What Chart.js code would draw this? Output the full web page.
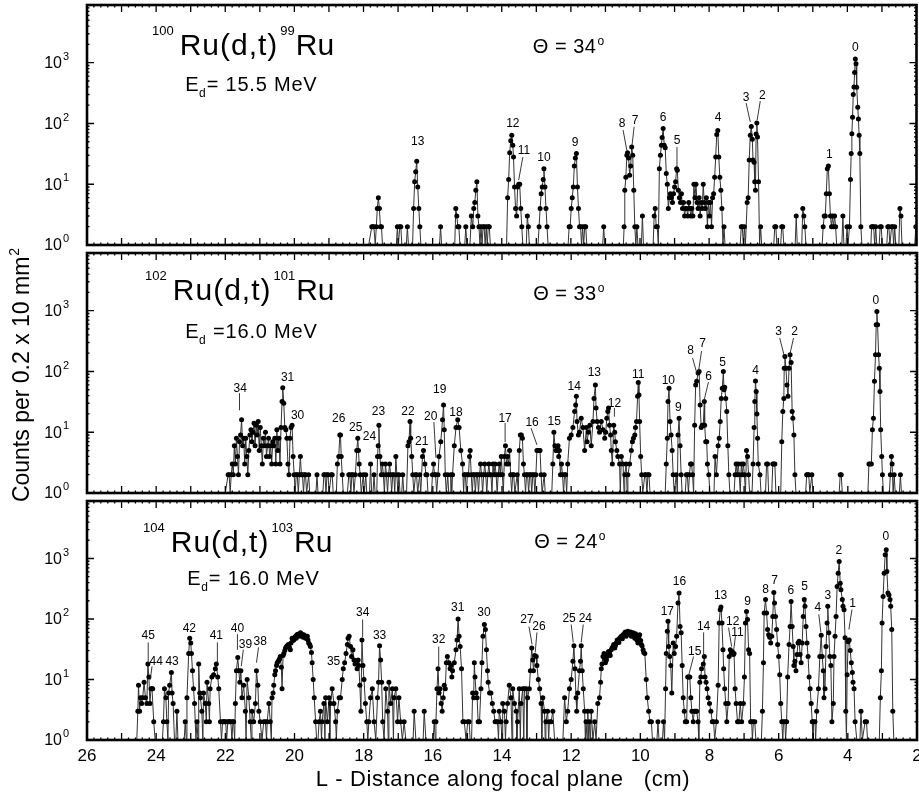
<!DOCTYPE html>
<html>
<head>
<meta charset="utf-8">
<script src="https://cdn.jsdelivr.net/npm/chart.js@4.4.1/dist/chart.umd.min.js"></script>
<style>
  html, body { margin: 0; padding: 0; background: #fff; }
  #wrap { position: relative; width: 919px; height: 796px; overflow: hidden; }
  canvas { position: absolute; left: 0; }
</style>
</head>
<body>
<div id="wrap">
  <canvas id="ru99" width="919" height="256" style="top:0px"></canvas>
  <canvas id="ru101" width="919" height="262" style="top:240px"></canvas>
  <canvas id="ru103" width="919" height="297" style="top:499px"></canvas>
</div>
<script>
// (d,t) spectra: counts per channel vs. position L (cm) along the focal plane.
// Pairs are [L, counts]; a count of 1 sits on the bottom axis.
const ru99Spectrum = [
  [17.85,1],[17.76,2],[17.73,2],[17.70,2],[17.66,1],[17.63,2],[17.60,4],[17.57,6],[17.54,4],[17.51,2],[17.48,2],[17.45,1],
  [17.05,1],[17.02,2],[16.99,1],[16.95,2],[16.92,2],[16.89,1],[16.76,1],[16.73,2],[16.70,1],
  [16.58,1],[16.55,4],[16.52,11],[16.49,16],[16.46,24],[16.43,9],[16.40,4],[16.37,2],[16.34,1],
  [15.80,1],[15.77,2],[15.74,1],
  [15.36,1],[15.33,4],[15.30,3],[15.27,2],[15.24,2],[15.21,1],
  [15.07,1],[15.04,2],[15.01,1],
  [14.92,1],[14.88,3],[14.84,2],[14.81,4],[14.78,5],[14.75,8],[14.72,11],[14.69,3],[14.66,2],
  [14.63,1],[14.60,2],[14.57,1],[14.54,2],[14.51,2],[14.48,1],[14.45,2],[14.42,1],[14.39,2],[14.36,2],[14.33,1],
  [13.86,1],[13.83,6],[13.80,12],[13.77,33],[13.74,52],[13.71,64],[13.68,44],[13.66,28],[13.63,9],[13.60,4],[13.57,3],
  [13.54,9],[13.51,10],[13.48,10],[13.45,4],[13.42,2],[13.39,1],
  [13.29,1],[13.26,3],[13.23,2],[13.20,1],
  [12.95,1],[12.92,2],[12.89,4],[12.86,7],[12.83,9],[12.80,12],[12.78,18],[12.75,9],[12.72,4],[12.69,2],[12.66,1],
  [12.08,1],[12.05,2],[12.02,2],[11.99,4],[11.96,6],[11.93,9],[11.90,20],[11.87,27],[11.84,32],[11.81,9],[11.78,4],
  [11.75,2],[11.72,2],[11.69,1],[11.66,2],[11.63,1],[11.60,2],[11.57,2],[11.54,1],
  [11.08,1],[11.05,2],[11.02,1],
  [10.48,1],[10.46,2],[10.44,8],[10.41,13],[10.38,30],[10.36,33],[10.33,27],[10.30,14],[10.27,20],[10.24,41],[10.21,30],
  [10.18,8],[10.15,2],[10.12,1],[10.09,2],[10.06,1],[9.96,1],[9.93,3],[9.90,1],
  [9.62,1],[9.59,3],[9.56,4],[9.53,2],[9.50,2],[9.47,1],[9.44,18],[9.41,30],[9.38,44],[9.36,59],[9.33,83],[9.30,44],
  [9.27,40],[9.24,15],[9.21,10],[9.18,4],[9.15,6],[9.12,7],[9.09,6],[9.06,5],[9.03,7],[9.00,9],[8.97,11],[8.94,18],
  [8.92,17],[8.89,8],[8.86,6],[8.83,5],[8.80,7],[8.77,4],[8.74,5],[8.71,3],[8.68,4],[8.65,4],[8.62,3],[8.59,5],
  [8.56,4],[8.53,3],[8.50,4],[8.47,3],[8.44,10],[8.41,6],[8.38,10],[8.35,5],[8.32,4],[8.29,6],[8.26,3],[8.23,5],
  [8.20,4],[8.17,10],[8.14,5],[8.11,4],[8.08,6],[8.05,2],[8.02,5],[7.99,3],[7.96,5],[7.93,2],[7.90,6],[7.87,7],
  [7.84,13],[7.81,28],[7.78,66],[7.75,77],[7.72,28],[7.69,13],[7.66,8],[7.63,4],[7.60,1],[7.57,2],[7.54,1],
  [7.10,1],[7.07,2],[7.04,2],[7.01,1],[6.98,2],[6.95,1],
  [6.90,5],[6.87,6],[6.84,25],[6.81,64],[6.78,89],[6.75,55],[6.73,25],[6.70,23],[6.68,11],[6.66,8],[6.64,67],
  [6.62,102],[6.60,60],[6.57,11],[6.54,1],[6.51,2],[6.48,1],
  [6.13,1],[6.10,2],[6.07,2],[6.04,1],[5.93,1],[5.90,2],[5.87,2],[5.84,1],
  [5.51,1],[5.48,3],[5.45,1],
  [5.32,1],[5.29,4],[5.26,3],[5.23,2],[5.20,1],
  [4.73,1],[4.70,2],[4.67,3],[4.64,3],[4.61,7],[4.58,18],[4.55,20],[4.52,7],[4.49,3],[4.46,2],[4.43,3],[4.40,2],
  [4.37,3],[4.34,2],[4.31,1],
  [4.16,1],[4.13,3],[4.10,1],[4.04,1],[4.01,2],[3.98,1],
  [3.94,2],[3.91,12],[3.89,32],[3.87,68],[3.85,127],[3.83,300],[3.81,400],[3.79,690],[3.77,1150],[3.75,960],
  [3.73,395],[3.70,185],[3.68,118],[3.66,64],[3.64,32],[3.61,2],[3.58,1],
  [3.32,1],[3.30,2],[3.27,2],[3.24,2],[3.21,1],[3.18,2],[3.15,1],[3.08,1],[3.05,2],[3.02,2],[2.99,1],
  [2.86,1],[2.83,2],[2.80,2],[2.77,1],[2.72,2],[2.69,2],[2.66,1],[2.63,2],[2.60,1],
  [2.51,1],[2.48,4],[2.45,3],[2.42,1],[2.05,1],[2.02,2]
];

const ru101Spectrum = [
  [22.00,1],[21.92,2],[21.89,2],[21.86,1],[21.83,2],[21.80,3],[21.77,2],[21.74,6],[21.71,3],[21.68,8],[21.65,4],
  [21.62,2],[21.59,7],[21.56,9],[21.53,16],[21.50,6],[21.47,8],[21.44,3],[21.41,8],[21.38,4],[21.35,2],[21.32,5],
  [21.29,9],[21.26,11],[21.23,7],[21.20,10],[21.17,14],[21.14,6],[21.11,13],[21.08,9],[21.05,15],[21.02,5],
  [20.99,12],[20.96,6],[20.93,3],[20.90,8],[20.87,6],[20.84,10],[20.81,4],[20.78,6],[20.75,8],[20.72,4],[20.69,6],
  [20.66,3],[20.63,7],[20.60,6],[20.57,8],[20.54,3],[20.51,11],[20.48,5],[20.45,8],[20.42,3],[20.39,12],[20.36,32],
  [20.34,54],[20.31,30],[20.28,12],[20.25,11],[20.22,8],[20.19,3],[20.16,2],[20.13,8],[20.10,12],[20.07,13],[20.04,4],
  [20.01,2],[19.98,1],[19.95,2],[19.92,2],[19.89,1],[19.86,2],[19.83,4],[19.80,2],[19.77,2],[19.74,1],[19.71,2],
  [19.68,2],[19.65,1],[19.59,2],[19.56,1],
  [19.38,1],[19.35,2],[19.32,1],[19.18,1],[19.15,2],[19.12,2],[19.09,1],[19.06,2],[19.03,2],[19.00,1],[18.94,2],
  [18.91,2],[18.88,1],[18.79,1],[18.76,3],[18.72,4],[18.69,9],[18.67,9],[18.65,4],[18.62,2],[18.59,1],
  [18.47,1],[18.43,2],[18.40,2],[18.37,1],[18.34,2],[18.31,2],[18.28,1],[18.24,2],[18.20,5],[18.17,8],[18.15,5],
  [18.13,3],[18.10,2],[18.07,1],[18.01,2],[17.98,1],[17.94,2],[17.91,1],[17.83,1],[17.80,3],[17.77,1],[17.73,1],
  [17.70,2],[17.67,1],[17.62,1],[17.60,4],[17.58,6],[17.56,13],[17.53,4],[17.49,2],[17.46,3],[17.43,2],[17.40,1],
  [17.37,3],[17.34,2],[17.31,1],[17.28,2],[17.25,3],[17.22,2],[17.19,1],[17.16,2],[17.13,2],[17.10,1],[17.07,4],
  [17.04,2],[17.01,1],[16.98,2],[16.95,1],[16.90,1],[16.87,2],[16.84,1],
  [16.76,1],[16.72,6],[16.69,7],[16.66,15],[16.64,8],[16.61,4],[16.58,2],[16.55,1],[16.50,2],[16.47,2],[16.44,1],
  [16.38,2],[16.35,1],[16.30,4],[16.27,5],[16.23,3],[16.20,2],[16.17,2],[16.14,1],[16.04,1],[16.01,2],[15.98,3],
  [15.95,2],[15.92,2],[15.89,1],[15.85,2],[15.82,4],[15.77,7],[15.72,16],[15.69,28],[15.67,11],[15.64,2],[15.61,1],
  [15.57,2],[15.54,1],[15.50,1],[15.48,2],[15.45,1],[15.43,2],[15.38,6],[15.33,12],[15.28,16],[15.24,12],[15.19,5],
  [15.14,3],[15.11,1],
  [15.09,2],[15.06,2],[15.03,1],[15.00,2],[14.97,2],[14.94,4],[14.92,5],[14.89,2],[14.86,1],[14.83,2],[14.80,2],
  [14.77,1],[14.74,2],[14.71,2],[14.68,1],[14.65,2],[14.62,3],[14.59,2],[14.56,1],[14.53,2],[14.50,3],[14.47,2],
  [14.44,1],[14.41,2],[14.38,3],[14.35,2],[14.32,2],[14.29,1],[14.26,3],[14.23,2],[14.20,3],[14.17,2],[14.14,1],
  [14.11,2],[14.08,3],[14.05,2],[14.02,4],[13.99,2],[13.96,1],[13.93,4],[13.90,6],[13.87,3],[13.84,4],[13.81,3],
  [13.78,5],[13.75,2],[13.72,1],[13.69,2],[13.66,2],[13.63,1],[13.56,2],[13.53,1],[13.50,5],[13.47,9],[13.44,9],
  [13.41,8],[13.38,3],[13.35,2],[13.32,1],[13.29,2],[13.26,2],[13.23,1],[13.20,2],[13.17,2],[13.14,1],[13.11,2],
  [13.08,2],[13.05,1],[13.02,2],[12.99,5],[12.96,5],[12.93,5],[12.90,5],[12.87,2],[12.84,1],[12.78,2],[12.75,1],
  [12.56,1],[12.53,3],[12.50,10],[12.47,6],[12.44,5],[12.41,5],[12.38,6],[12.36,4],[12.34,5],[12.31,2],[12.28,3],
  [12.25,2],[12.22,1],[12.19,2],[12.16,2],[12.13,1],
  [12.10,3],[12.05,8],[12.00,9],[11.95,12],[11.90,22],[11.87,28],[11.85,39],[11.83,15],[11.79,9],[11.76,10],
  [11.71,17],[11.66,12],[11.61,5],[11.56,12],[11.54,7],[11.50,10],[11.46,13],[11.42,6],[11.37,15],[11.34,36],
  [11.30,60],[11.28,25],[11.25,15],[11.21,12],[11.18,10],[11.13,15],[11.08,11],[11.03,8],[11.00,10],[10.97,17],
  [10.94,22],[10.92,25],[10.89,13],[10.86,9],[10.84,5],[10.81,3],[10.77,13],[10.74,10],[10.72,7],[10.68,5],
  [10.65,4],[10.60,3],[10.58,1],[10.55,4],[10.50,3],[10.47,1],[10.45,2],[10.41,3],[10.38,1],[10.36,2],[10.31,3],
  [10.26,5],[10.23,7],[10.20,8],[10.16,9],[10.14,12],[10.11,15],[10.08,39],[10.06,66],[10.04,41],[10.02,15],
  [9.99,4],[9.96,2],[9.93,1],
  [9.87,2],[9.84,2],[9.81,1],[9.78,2],[9.75,2],[9.72,1],
  [9.28,1],[9.25,3],[9.22,8],[9.20,32],[9.17,53],[9.14,15],[9.11,9],[9.08,5],[9.05,2],[9.02,1],[8.96,2],[8.93,1],
  [8.91,9],[8.88,17],[8.85,6],[8.82,2],[8.79,1],
  [8.70,1],[8.67,2],[8.64,2],[8.61,1],[8.58,2],[8.55,3],[8.52,3],[8.49,2],[8.46,1],
  [8.43,13],[8.40,60],[8.37,69],[8.33,94],[8.30,100],[8.27,28],[8.24,12],[8.21,13],[8.18,13],[8.15,32],[8.14,13],
  [8.11,7],[8.08,7],[8.06,3],[8.02,2],[7.99,1],
  [7.87,1],[7.84,4],[7.80,2],[7.75,6],[7.72,8],[7.69,15],[7.66,36],[7.63,53],[7.60,100],[7.58,50],[7.56,55],
  [7.53,36],[7.50,22],[7.47,6],[7.44,2],[7.41,1],
  [7.29,1],[7.26,2],[7.23,3],[7.20,2],[7.17,3],[7.14,2],[7.11,1],[7.08,3],[7.05,2],[7.02,3],[6.99,2],[6.96,1],
  [6.93,5],[6.90,4],[6.87,2],[6.84,1],
  [6.77,1],[6.74,3],[6.71,12],[6.69,32],[6.67,70],[6.65,47],[6.63,20],[6.61,8],[6.59,3],[6.54,2],[6.51,1],
  [6.38,1],[6.35,3],[6.32,3],[6.29,1],[6.20,1],[6.17,3],[6.14,3],[6.11,3],[6.08,1],
  [5.94,1],[5.91,7],[5.88,22],[5.85,36],[5.84,113],[5.82,177],[5.79,113],[5.76,60],[5.73,39],[5.70,113],[5.67,188],
  [5.64,140],[5.61,22],[5.59,17],[5.56,9],[5.53,2],[5.50,1],
  [5.22,1],[5.19,2],[5.16,2],[5.13,2],[5.10,1],[5.04,2],[5.01,1],
  [4.25,1],[4.22,2],[4.19,2],[4.16,1],
  [3.42,1],[3.39,3],[3.36,3],[3.32,3],[3.29,11],[3.26,17],[3.23,69],[3.20,188],[3.18,590],[3.16,975],[3.14,590],
  [3.11,188],[3.09,113],[3.07,47],[3.05,11],[3.02,4],[3.00,2],[2.97,1],
  [2.80,1],[2.77,2],[2.74,4],[2.72,3],[2.69,1],[2.66,2],[2.63,1],[2.51,1],[2.48,2],[2.45,1]
];

const ru103Spectrum = [
  [24.56,1],[24.53,3],[24.51,8],[24.48,3],[24.45,5],[24.42,4],[24.39,5],[24.35,9],[24.31,5],[24.27,4],[24.24,18],
  [24.21,11],[24.18,4],[24.15,7],[24.12,7],[24.10,7],[24.07,2],[24.03,1],
  [23.82,1],[23.79,2],[23.76,7],[23.72,5],[23.69,2],[23.66,1],[23.64,6],[23.61,8],[23.56,13],[23.54,6],[23.51,4],
  [23.47,1],[23.43,1],[23.40,3],[23.37,1],
  [23.19,1],[23.16,2],[23.13,1],[23.11,5],[23.06,27],[23.03,48],[23.00,40],[22.98,27],[22.95,14],[22.92,7],[22.89,4],
  [22.85,1],[22.82,2],[22.79,1],[22.77,18],[22.74,6],[22.72,5],[22.68,3],[22.65,1],[22.63,6],[22.58,4],[22.55,2],
  [22.53,9],[22.48,4],[22.46,2],[22.44,7],[22.39,11],[22.34,12],[22.29,15],[22.26,18],[22.22,11],[22.19,7],[22.14,2],
  [22.11,1],[22.08,2],[22.05,2],[22.02,2],[21.99,2],[21.96,1],[21.93,2],[21.90,2],[21.87,2],[21.84,2],[21.81,1],
  [21.78,2],[21.76,2],[21.73,1],[21.71,4],[21.68,14],[21.64,23],[21.61,14],[21.58,9],[21.55,14],[21.52,5],[21.47,8],
  [21.42,3],[21.40,1],[21.37,10],[21.32,5],[21.28,2],[21.25,1],[21.23,3],[21.18,2],[21.13,4],[21.10,14],[21.06,8],
  [21.03,3],[20.99,2],[20.94,1],[20.89,2],[20.84,2],[20.81,1],[20.79,2],[20.74,4],[20.70,2],[20.67,1],
  [20.65,5],[20.62,6],[20.60,8],[20.57,12],[20.55,14],[20.52,17],[20.50,19],[20.47,20],[20.45,21],[20.43,22],
  [20.41,24],[20.38,16],[20.36,7],[20.33,25],[20.31,27],[20.28,30],[20.26,33],[20.23,35],[20.21,36],[20.18,38],
  [20.15,34],[20.12,31],[20.10,40],[20.07,48],[20.05,44],[20.02,45],[19.99,50],[19.97,52],[19.95,48],[19.93,55],
  [19.90,56],[19.87,52],[19.85,54],[19.83,59],[19.80,57],[19.78,52],[19.75,50],[19.73,55],[19.70,53],[19.68,48],
  [19.65,50],[19.63,52],[19.61,45],[19.59,40],[19.56,38],[19.54,35],[19.51,28],[19.49,19],[19.46,10],[19.43,5],
  [19.39,2],[19.36,1],
  [19.32,1],[19.29,2],[19.25,3],[19.22,1],[19.20,2],[19.15,4],[19.12,1],[19.10,5],[19.05,2],[19.00,5],[18.98,1],
  [18.96,4],[18.91,7],[18.86,4],[18.81,2],[18.79,1],[18.76,3],[18.71,5],[18.67,5],[18.62,10],
  [18.59,15],[18.55,19],[18.51,27],[18.47,38],[18.45,48],[18.42,52],[18.38,35],[18.35,24],[18.31,31],[18.28,21],
  [18.25,18],[18.22,19],[18.19,15],[18.16,21],[18.14,17],[18.11,8],[18.08,3],[18.05,45],[18.02,17],[17.99,10],
  [17.95,4],[17.91,2],[17.88,1],
  [17.85,2],[17.80,5],[17.75,7],[17.70,2],[17.65,1],[17.60,5],[17.57,9],[17.54,36],[17.51,21],[17.48,9],[17.45,2],
  [17.41,1],[17.36,7],[17.31,3],[17.29,1],[17.27,9],[17.22,4],[17.17,7],[17.14,1],[17.12,5],[17.07,7],[17.02,2],
  [16.98,5],[16.93,2],[16.88,1],[16.83,2],[16.78,1],[16.57,1],[16.54,3],[16.49,1],[16.28,1],[16.25,3],[16.20,1],
  [15.99,1],[15.96,2],[15.93,1],
  [15.91,2],[15.88,7],[15.85,15],[15.82,6],[15.79,7],[15.76,4],[15.73,3],[15.70,5],[15.67,8],[15.64,7],[15.61,19],
  [15.58,24],[15.53,19],[15.50,15],[15.48,17],[15.45,11],[15.43,14],[15.38,19],[15.33,31],[15.30,45],[15.27,100],
  [15.24,52],[15.21,35],[15.17,15],[15.13,2],[15.09,2],[15.04,1],[14.99,2],[14.95,2],[14.92,1],
  [14.88,1],[14.85,6],[14.82,5],[14.80,19],[14.78,11],[14.75,6],[14.72,5],[14.69,2],[14.65,2],[14.61,7],[14.58,19],
  [14.55,52],[14.51,81],[14.48,67],[14.45,31],[14.42,14],[14.40,9],[14.36,6],[14.32,6],[14.28,4],[14.24,3],
  [14.20,2],[14.16,2],
  [14.13,2],[14.10,1],[14.08,3],[14.03,2],[14.00,1],[13.98,4],[13.93,3],[13.90,1],[13.88,2],[13.84,4],[13.79,8],
  [13.74,5],[13.71,1],[13.69,7],[13.64,4],[13.59,3],[13.57,1],[13.55,2],[13.50,7],[13.47,1],[13.45,4],[13.40,7],
  [13.37,1],[13.35,7],[13.30,7],[13.28,1],[13.26,5],[13.21,7],[13.18,14],[13.14,33],[13.11,21],[13.09,14],
  [13.05,25],[13.01,24],[12.99,17],[12.95,10],[12.91,7],[12.87,4],[12.85,1],[12.82,5],[12.77,3],[12.75,1],
  [12.73,2],[12.68,3],[12.65,1],[12.63,2],[12.58,2],[12.53,3],[12.48,1],
  [12.24,1],[12.19,5],[12.14,2],[12.10,3],[12.05,7],[12.00,10],[11.95,20],[11.92,36],[11.89,15],[11.86,5],
  [11.84,3],[11.81,6],[11.76,14],[11.73,20],[11.71,36],[11.68,14],[11.65,7],[11.61,3],[11.59,1],[11.57,2],
  [11.54,1],[11.52,3],[11.49,1],[11.47,2],[11.44,1],[11.42,3],[11.37,1],[11.32,2],[11.28,1],[11.23,4],[11.18,5],
  [11.15,9],
  [11.13,15],[11.11,18],[11.08,24],[11.05,27],[11.03,22],[11.01,19],[10.98,21],[10.96,24],[10.94,26],[10.92,29],
  [10.89,27],[10.87,25],[10.84,31],[10.82,33],[10.79,35],[10.77,38],[10.74,33],[10.72,36],[10.70,40],[10.67,45],
  [10.65,43],[10.62,41],[10.60,48],[10.57,50],[10.55,52],[10.52,47],[10.50,55],[10.47,55],[10.45,59],[10.43,61],
  [10.41,52],[10.38,56],[10.36,63],[10.33,57],[10.31,59],[10.28,61],[10.26,52],[10.23,55],[10.21,59],[10.18,52],
  [10.16,48],[10.14,57],[10.12,52],[10.10,45],[10.07,40],[10.05,50],[10.02,55],[9.99,44],[9.97,38],[9.95,36],
  [9.92,31],[9.90,28],[9.87,27],[9.83,10],[9.80,5],[9.76,3],[9.72,2],[9.68,2],[9.65,1],
  [9.52,1],[9.49,2],[9.46,1],[9.36,1],[9.33,2],[9.30,1],
  [9.27,7],[9.25,27],[9.22,63],[9.20,92],[9.18,35],[9.15,24],[9.12,17],[9.09,6],[9.05,40],[9.02,27],[8.98,35],
  [8.95,52],[8.91,183],[8.88,270],[8.85,75],[8.82,59],[8.79,17],[8.76,5],[8.73,3],[8.70,2],
  [8.66,2],[8.63,11],[8.60,11],[8.57,11],[8.54,5],[8.51,3],[8.47,2],[8.44,3],[8.41,3],[8.37,3],[8.33,2],[8.31,1],
  [8.28,9],[8.25,11],[8.23,15],[8.18,18],[8.15,24],[8.13,11],[8.10,9],[8.07,7],[8.04,5],[8.00,4],[7.96,3],[7.92,2],
  [7.88,2],[7.85,1],
  [7.80,2],[7.75,8],[7.72,86],[7.69,142],[7.67,158],[7.64,86],[7.61,31],[7.59,15],[7.56,7],[7.53,4],[7.50,2],
  [7.46,4],[7.43,24],[7.40,31],[7.37,27],[7.34,29],[7.31,26],[7.29,27],[7.26,7],[7.23,4],[7.19,2],[7.15,2],
  [7.11,4],[7.07,2],[7.02,4],[6.99,11],[6.96,86],[6.93,133],[6.90,98],[6.87,31],[6.84,27],[6.81,2],[6.78,2],
  [6.76,1],[6.73,2],[6.69,2],[6.66,1],
  [6.50,1],[6.47,3],[6.44,19],[6.42,126],[6.38,210],[6.35,126],[6.32,67],[6.29,55],[6.26,50],[6.23,40],[6.20,52],
  [6.17,110],[6.14,275],[6.12,183],[6.09,110],[6.06,67],[6.03,38],[6.00,24],[5.97,12],[5.94,4],[5.91,2],[5.88,1],
  [5.86,2],[5.82,2],[5.80,1],[5.77,2],
  [5.74,11],[5.70,38],[5.67,75],[5.64,195],[5.61,75],[5.58,35],[5.56,17],[5.53,20],[5.50,14],[5.47,26],[5.44,40],
  [5.41,43],[5.38,26],[5.35,19],[5.32,40],[5.29,110],[5.26,210],[5.24,162],[5.21,75],[5.18,40],[5.15,24],[5.12,11],
  [5.09,7],[5.06,4],[5.03,2],[5.01,1],[4.99,2],[4.95,2],[4.93,1],[4.90,3],
  [4.85,7],[4.81,24],[4.77,54],[4.74,24],[4.71,14],[4.69,5],[4.66,7],[4.63,35],[4.60,86],[4.58,162],[4.55,59],
  [4.52,24],[4.49,17],[4.46,2],[4.42,4],[4.40,24],[4.37,52],[4.34,110],[4.31,345],[4.28,570],[4.25,890],[4.22,390],
  [4.20,305],[4.16,210],[4.14,162],[4.11,142],[4.08,49],[4.06,3],[4.04,1],[4.02,12],[3.99,42],[3.96,45],[3.93,30],
  [3.90,19],[3.87,13],[3.85,9],[3.82,7],[3.79,2],[3.74,1],
  [3.65,1],[3.62,3],[3.58,1],[3.50,2],[3.46,2],[3.43,1],
  [3.09,1],[3.06,5],[3.03,14],[3.01,86],[2.98,235],[2.95,570],[2.92,1150],[2.89,1390],[2.87,610],[2.84,270],
  [2.81,250],[2.78,210],[2.76,162],[2.73,67],[2.70,3],[2.67,1]
];

// Level labels: [text, L, counts at label centre]; leader lines: [L1, n1, L2, n2]
const ru99Peaks = [['13',16.43,50],['12',13.68,98],['11',13.36,35],['10',12.78,27],['9',11.88,48],['8',10.52,98],
  ['7',10.14,110],['6',9.33,123],['5',8.93,52],['4',7.74,123],['3',6.93,263],['2',6.46,284],['1',4.52,31],['0',3.77,1740]];
const ru99Leaders = [[13.39,28,13.51,11.7],[10.49,78,10.38,36],[10.17,88,10.23,44],[8.93,41,8.93,19],
  [6.93,217,6.81,106],[6.52,234,6.61,114]];

const ru101Peaks = [['34',21.57,53],['31',20.20,78],['30',19.91,19],['26',18.72,17],['25',18.23,11.7],['24',17.83,8.3],
  ['23',17.57,22],['22',16.72,22],['21',16.32,6.9],['20',16.06,18],['19',15.80,50],['18',15.33,20.7],['17',13.91,17],
  ['16',13.13,14.2],['15',12.49,14.7],['14',11.91,56],['13',11.33,94],['12',10.75,30],['11',10.06,88],['10',9.19,70],
  ['9',8.90,25],['8',8.55,217],['7',8.20,283],['6',8.03,81],['5',7.62,138],['4',6.67,102],['3',6.00,446],['2',5.54,446],
  ['0',3.19,1450]];
const ru101Leaders = [[21.59,44,21.59,23],[15.97,14.7,15.91,3.8],[13.91,14.2,13.91,6.9],[13.16,11.7,12.99,6.2],
  [10.75,25,10.75,18],[8.49,167,8.35,87],[8.23,217,8.32,98],[8.03,67,8.17,31],[5.97,356,5.83,173],[5.57,356,5.68,187]];

const ru103Peaks = [['45',24.23,52],['44',24.00,20],['43',23.54,20],['42',23.04,70],['41',22.26,52],['40',21.65,70],
  ['39',21.42,38],['38',20.99,42.6],['35',18.87,20],['34',18.03,128],['33',17.54,52],['32',15.83,46],['31',15.28,155],
  ['30',14.52,128],['27',13.28,98],['26',12.93,75],['25',12.06,102],['24',11.59,102],['17',9.22,133],['16',8.87,414],
  ['15',8.43,29],['14',8.17,75],['13',7.68,243],['12',7.33,91],['11',7.19,60],['9',6.90,194],['8',6.38,305],
  ['7',6.12,430],['6',5.65,294],['5',5.25,343],['4',4.87,155],['3',4.58,243],['2',4.26,1340],['1',3.86,180],
  ['0',2.90,2280]];
const ru103Leaders = [[24.23,41,24.23,19],[24.12,16.5,24.17,10],[22.23,41,22.23,19],[21.65,56,21.65,31],
  [21.48,31,21.54,16.5],[21.04,34,21.10,19],[18.03,98,18.03,50],[15.83,35,15.83,16.5],[13.22,75,13.13,38],
  [12.99,60,13.04,28],[12.00,81,11.94,41],[11.65,81,11.71,41],[8.46,24,8.61,11.3],[8.17,60,8.17,24],
  [7.45,72,7.36,35],[7.25,52,7.30,31],[4.84,119,4.78,60],[3.88,143,3.97,67]];

// reaction captions per panel
const reactionMasses = [['100','99'], ['102','101'], ['104','103']];
const beamEnergies = ['= 15.5 MeV', ' =16.0 MeV', '= 16.0 MeV'];
const scatteringAngles = ['34', '33', '24'];
const titleAnchors = [[24.12,1340], [24.32,1500], [24.38,1290]];
const energyAnchors = [[23.16,343], [23.16,356], [23.10,369]];
const angleAnchors = [[13.10,1445], [13.10,1500], [13.07,1500]];

const xTickLabels = [26, 24, 22, 20, 18, 16, 14, 12, 10, 8, 6, 4, 2];
const yDecades = [0, 1, 2, 3];

const FONT = '"Liberation Sans", Arial, Helvetica, sans-serif';
const Y_MAX = Math.pow(10, 3.95);

// draw a run of text pieces: [text, size, rise, gapAfter, letterSpacing]
function drawRich(ctx, parts, x, y) {
    parts.forEach(([text, size, rise, gap, spacing]) => {
        ctx.font = size + 'px ' + FONT;
        ctx.letterSpacing = (spacing || 0) + 'px';
        ctx.fillText(text, x, y - rise);
        x += ctx.measureText(text).width + (gap || 0);
    });
    ctx.letterSpacing = '0px';
    return x;
}

function richWidth(ctx, parts) {
    let w = 0;
    parts.forEach(([text, size, rise, gap, spacing]) => {
        ctx.font = size + 'px ' + FONT;
        ctx.letterSpacing = (spacing || 0) + 'px';
        w += ctx.measureText(text).width + (gap || 0);
    });
    ctx.letterSpacing = '0px';
    return w;
}

const decor = {
    id: 'decor',
    afterDatasetsDraw(chart, args, o) {
        const { ctx, chartArea: a, scales: { x, y } } = chart;
        const px = v => x.getPixelForValue(v);
        const py = v => y.getPixelForValue(v);
        ctx.save();
        ctx.strokeStyle = '#000';
        ctx.fillStyle = '#000';

        // focal-plane ticks, every 0.2 cm, longer at whole cm
        ctx.lineWidth = 1.3;
        ctx.beginPath();
        for (let i = 10; i <= 130; i++) {
            const xx = px(i / 5);
            const len = i % 5 === 0 ? 7 : 2.5;
            ctx.moveTo(xx, a.top); ctx.lineTo(xx, a.top + len);
            ctx.moveTo(xx, a.bottom); ctx.lineTo(xx, a.bottom - len);
        }
        // log ticks on both sides
        for (let d = 0; d <= 3; d++) {
            for (let m = 1; m <= 9; m++) {
                const v = m * Math.pow(10, d);
                if (v >= Y_MAX) break;
                const yy = py(v);
                const len = m === 1 ? 7 : 2.5;
                ctx.moveTo(a.left, yy); ctx.lineTo(a.left + len, yy);
                ctx.moveTo(a.right, yy); ctx.lineTo(a.right - len, yy);
            }
        }
        ctx.stroke();

        // frame
        ctx.lineWidth = 2.6;
        ctx.strokeRect(a.left, a.top, a.right - a.left, a.bottom - a.top);

        // decade labels 10^n
        yDecades.forEach(d => {
            const yy = py(Math.pow(10, d));
            ctx.textBaseline = 'middle';
            ctx.textAlign = 'right';
            ctx.font = '16px ' + FONT;
            ctx.fillText('10', a.left - 25, yy + 1);
            ctx.textAlign = 'left';
            ctx.font = '11px ' + FONT;
            ctx.fillText(String(d), a.left - 24, yy - 6);
        });

        // level labels and leader lines
        ctx.textAlign = 'center';
        ctx.textBaseline = 'middle';
        ctx.font = '12px ' + FONT;
        o.peaks.forEach(([t, L, n]) => ctx.fillText(t, px(L), py(n)));
        ctx.lineWidth = 0.9;
        ctx.strokeStyle = '#222';
        ctx.beginPath();
        o.leaders.forEach(([L1, n1, L2, n2]) => {
            ctx.moveTo(px(L1), py(n1));
            ctx.lineTo(px(L2), py(n2));
        });
        ctx.stroke();

        // reaction, beam energy and angle captions
        const k = o.panel;
        ctx.textAlign = 'left';
        ctx.textBaseline = 'alphabetic';
        const [m1, m2] = reactionMasses[k];
        drawRich(ctx, [
            [m1, 13, 20, 6, 0],
            ['Ru(d,t)', 30, 0, 2, 1],
            [m2, 13, 20, 1, 0],
            ['Ru', 30, 0, 0, 0]
        ], px(titleAnchors[k][0]), py(titleAnchors[k][1]));
        drawRich(ctx, [
            ['E', 20, 0, 0, 0.5],
            ['d', 12, -6, 1, 0],
            [beamEnergies[k], 20, 0, 0, 0.8]
        ], px(energyAnchors[k][0]), py(energyAnchors[k][1]));
        drawRich(ctx, [
            ['\u0398 = ' + scatteringAngles[k], 20, 0, 1, 0.5],
            ['o', 12, 8, 0, 0]
        ], px(angleAnchors[k][0]), py(angleAnchors[k][1]));

        // vertical axis title on the middle panel
        if (o.yTitle) {
            const parts = [['Counts per 0.2 x 10 mm', 23, 0, 1, 0], ['2', 14, 10, 0, 0]];
            const w = richWidth(ctx, parts);
            ctx.save();
            ctx.translate(29, (a.top + a.bottom) / 2 + 2);
            ctx.rotate(-Math.PI / 2);
            drawRich(ctx, parts, -w / 2, 0);
            ctx.restore();
        }

        // focal-plane axis labels on the bottom panel
        if (o.xAxis) {
            ctx.textAlign = 'center';
            ctx.textBaseline = 'alphabetic';
            ctx.font = '17px ' + FONT;
            xTickLabels.forEach(v => ctx.fillText(String(v), px(v), a.bottom + 21));
            ctx.font = '22px ' + FONT;
            ctx.letterSpacing = '0.6px';
            ctx.fillText('L - Distance along focal plane   (cm)', 503, a.bottom + 46);
            ctx.letterSpacing = '0px';
        }
        ctx.restore();
    }
};

function makePanel(id, panel, spectrum, peaks, leaders, padding, extra) {
    return new Chart(document.getElementById(id), {
        type: 'line',
        data: {
            datasets: [{
                data: spectrum.map(([L, n]) => ({ x: L, y: n })),
                borderColor: '#333',
                borderWidth: 1,
                tension: 0,
                pointRadius: c => (c.raw && c.raw.y > 1 ? 2.5 : 0),
                pointBackgroundColor: '#000',
                pointBorderWidth: 0,
                pointHoverRadius: 0
            }]
        },
        options: {
            responsive: false,
            animation: false,
            events: [],
            layout: { padding: padding },
            scales: {
                x: { type: 'linear', reverse: true, min: 2, max: 26, display: false },
                y: { type: 'logarithmic', min: 1, max: Y_MAX, display: false }
            },
            plugins: {
                legend: { display: false },
                tooltip: { enabled: false },
                decor: Object.assign({ panel: panel, peaks: peaks, leaders: leaders }, extra)
            }
        },
        plugins: [decor]
    });
}

makePanel('ru99', 0, ru99Spectrum, ru99Peaks, ru99Leaders,
    { left: 87, right: 2, top: 5, bottom: 11 }, {});
makePanel('ru101', 1, ru101Spectrum, ru101Peaks, ru101Leaders,
    { left: 87, right: 2, top: 13, bottom: 9 }, { yTitle: true });
makePanel('ru103', 2, ru103Spectrum, ru103Peaks, ru103Leaders,
    { left: 87, right: 2, top: 2, bottom: 56 }, { xAxis: true });
</script>
</body>
</html>
